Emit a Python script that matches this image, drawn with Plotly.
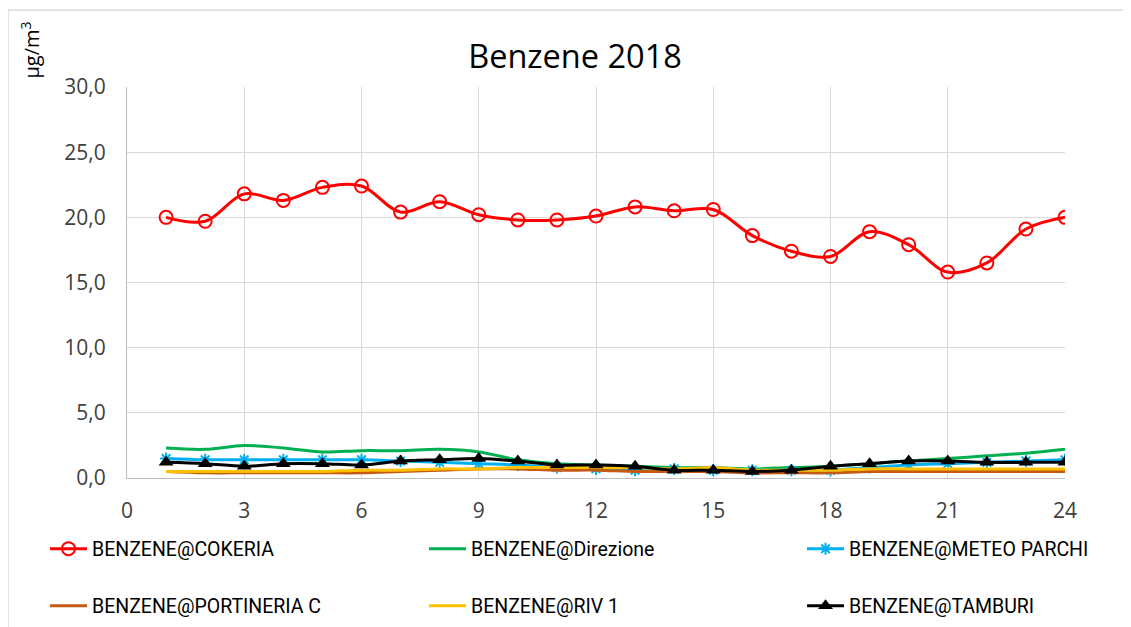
import plotly.graph_objects as go

hours = list(range(1, 25))
cokeria = [20.0, 19.7, 21.8, 21.3, 22.3, 22.4, 20.4, 21.2, 20.2, 19.8, 19.8, 20.1,
           20.8, 20.5, 20.6, 18.6, 17.4, 17.0, 18.9, 17.9, 15.8, 16.5, 19.1, 20.0]
direzione = [2.3, 2.2, 2.5, 2.3, 2.0, 2.1, 2.1, 2.2, 2.0, 1.4, 1.1, 1.0,
             0.9, 0.8, 0.8, 0.7, 0.8, 0.9, 1.1, 1.3, 1.5, 1.7, 1.9, 2.2]
meteo_parchi = [1.5, 1.4, 1.4, 1.4, 1.4, 1.4, 1.3, 1.2, 1.1, 1.0, 0.8, 0.7,
                0.6, 0.7, 0.6, 0.6, 0.6, 0.6, 0.8, 1.0, 1.1, 1.2, 1.3, 1.4]
portineria_c = [0.5, 0.4, 0.4, 0.4, 0.4, 0.4, 0.5, 0.6, 0.7, 0.7, 0.6, 0.6,
                0.5, 0.5, 0.5, 0.4, 0.4, 0.4, 0.5, 0.5, 0.5, 0.5, 0.5, 0.5]
riv1 = [0.5, 0.5, 0.5, 0.5, 0.5, 0.6, 0.6, 0.7, 0.7, 0.8, 0.8, 0.8,
        0.8, 0.7, 0.8, 0.6, 0.6, 0.6, 0.7, 0.7, 0.7, 0.7, 0.7, 0.7]
tamburi = [1.2, 1.1, 0.9, 1.1, 1.1, 1.0, 1.3, 1.4, 1.5, 1.3, 1.0, 1.0,
           0.9, 0.6, 0.6, 0.5, 0.6, 0.9, 1.1, 1.3, 1.3, 1.2, 1.2, 1.2]
x_ticks = [0, 3, 6, 9, 12, 15, 18, 21, 24]
y_ticks = [0, 5, 10, 15, 20, 25, 30]

FONT = "Open Sans"
LEG_FONT = "Roboto, Open Sans"

# page is offset by 8px of body margin
OFF = 8
W, H = 1131 - OFF, 627 - OFF
PL, PR, PT, PB = 127, 1065, 87, 478  # plot area in page pixels
L = PL - OFF
T = PT - OFF
R = W - (PR - OFF)
B = H - (PB - OFF)
pw = W - L - R
ph = H - T - B


def px_x(p):
    return (p - OFF - L) / pw


def px_y(p):
    return (H - B - (p - OFF)) / ph


fig = go.Figure()
fig.add_trace(go.Scatter(x=hours, y=cokeria, name="BENZENE@COKERIA", mode="lines+markers",
                         line=dict(color="#ff0000", width=3, shape="spline"),
                         marker=dict(symbol="circle-open", size=13, color="#ff0000", line=dict(width=2)),
                         legend="legend"))
fig.add_trace(go.Scatter(x=hours, y=direzione, name="BENZENE@Direzione", mode="lines",
                         line=dict(color="#00b050", width=3, shape="spline"), legend="legend2"))
fig.add_trace(go.Scatter(x=hours, y=meteo_parchi, name="BENZENE@METEO PARCHI", mode="lines+markers",
                         line=dict(color="#00b0f0", width=3, shape="spline"),
                         marker=dict(symbol="asterisk-open", size=10, color="#00b0f0",
                                     line=dict(width=2, color="#00b0f0")),
                         legend="legend3"))
fig.add_trace(go.Scatter(x=hours, y=portineria_c, name="BENZENE@PORTINERIA C", mode="lines",
                         line=dict(color="#c55a11", width=3, shape="spline"), legend="legend4"))
fig.add_trace(go.Scatter(x=hours, y=riv1, name="BENZENE@RIV 1", mode="lines",
                         line=dict(color="#ffc000", width=3, shape="spline"), legend="legend5"))
fig.add_trace(go.Scatter(x=hours, y=tamburi, name="BENZENE@TAMBURI", mode="lines+markers",
                         line=dict(color="#000000", width=3, shape="spline"),
                         marker=dict(symbol="triangle-up", size=13, color="#000000"),
                         legend="legend6"))

leg_pos = [(45, 549), (424, 549), (802, 549), (45, 606), (424, 606), (802, 606)]
legends = {}
for i, (lx, ly) in enumerate(leg_pos):
    key = "legend" if i == 0 else f"legend{i + 1}"
    legends[key] = dict(x=px_x(lx), xanchor="left", y=px_y(ly), yanchor="middle",
                        orientation="v", itemwidth=37,
                        font=dict(family=LEG_FONT, size=19.5, color="#000000"),
                        bgcolor="rgba(0,0,0,0)", borderwidth=0)

fig.update_layout(
    width=W, height=H,
    margin=dict(l=L, r=R, t=T, b=B, pad=0, autoexpand=False),
    paper_bgcolor="white", plot_bgcolor="white",
    separators=",.",
    font=dict(family=FONT, size=20, color="#404040"),
    title=dict(text="Benzene 2018", x=px_x(575), xref="paper", xanchor="center",
               y=1 - (57 - OFF) / H, yanchor="middle",
               font=dict(family=FONT, size=32.5, color="#000000")),
    xaxis=dict(range=[0, 24], tickvals=x_ticks, ticktext=[str(v) for v in x_ticks],
               showgrid=True, gridcolor="#d9d9d9", gridwidth=1,
               showline=True, linecolor="#bfbfbf", linewidth=1, ticks="", zeroline=False,
               ticklabelstandoff=14,
               tickfont=dict(family=FONT, size=21, color="#404040")),
    yaxis=dict(range=[0, 30], tickvals=y_ticks, tickformat=".1f",
               showgrid=True, gridcolor="#d9d9d9", gridwidth=1,
               showline=True, linecolor="#bfbfbf", linewidth=1, ticks="", zeroline=False,
               ticklabelstandoff=16,
               tickfont=dict(family=FONT, size=21, color="#404040")),
    annotations=[dict(text="µg/m<sup>3</sup>", xref="paper", yref="paper",
                      x=px_x(30), y=px_y(20), xanchor="center", yanchor="top",
                      textangle=-90, showarrow=False,
                      font=dict(family=FONT, size=20, color="#000000"))],
    shapes=[dict(type="rect", xref="paper", yref="paper",
                 x0=px_x(8), x1=px_x(1140), y0=px_y(10), y1=px_y(640),
                 line=dict(color="#d9d9d9", width=1.5), layer="below")],
    showlegend=True,
    **legends,
)

fig.write_html("out.html")
